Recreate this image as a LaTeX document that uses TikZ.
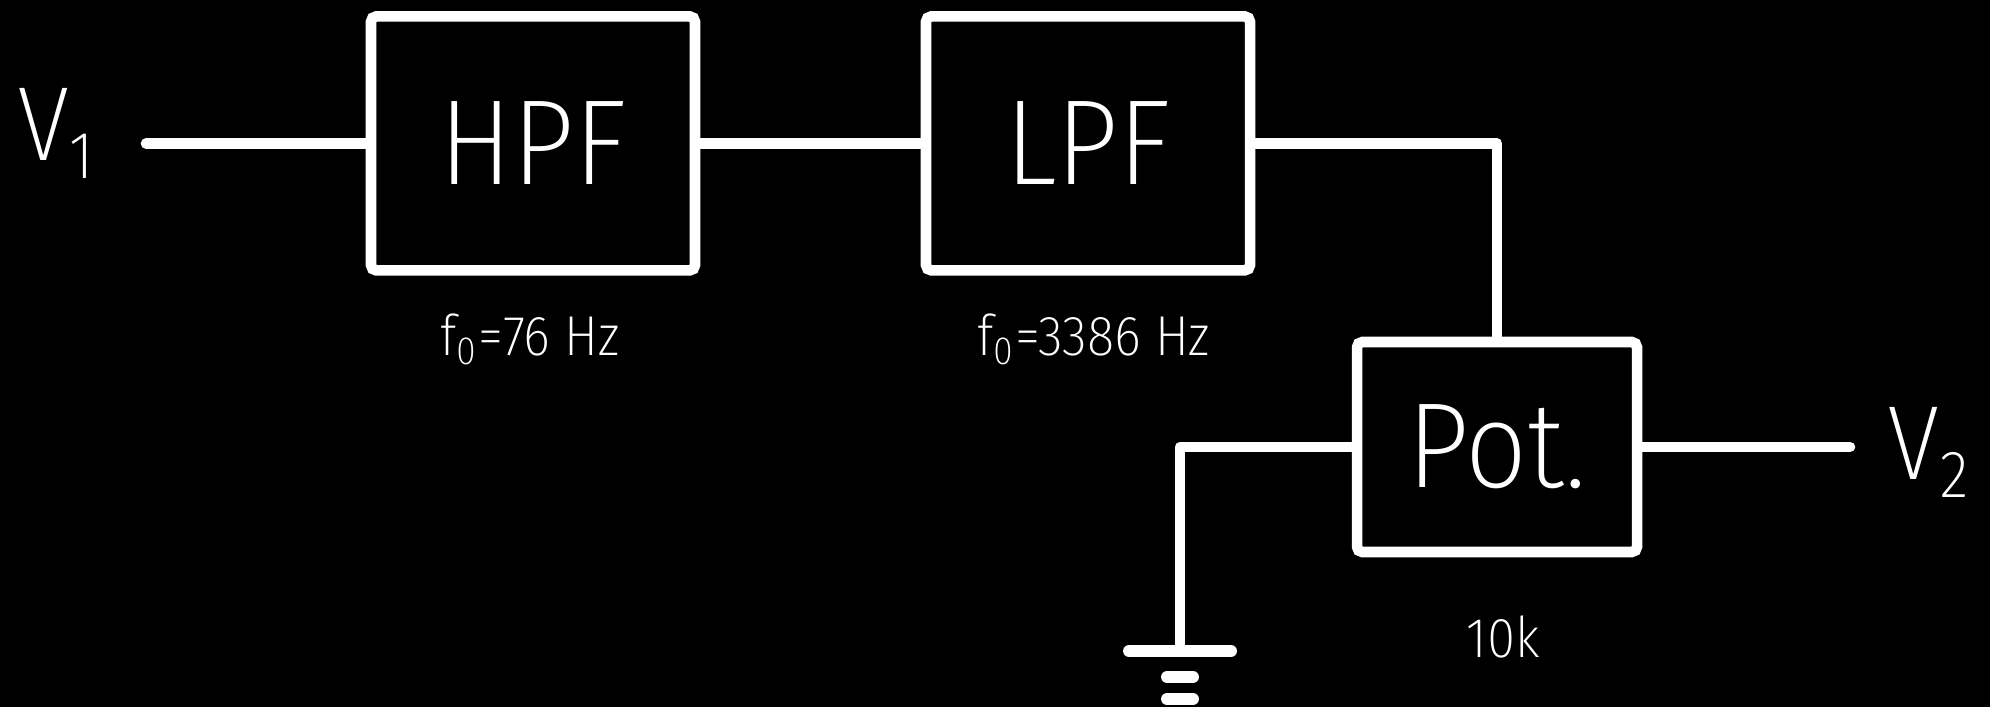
\documentclass[tikz,border=0pt]{standalone}
\usepackage{fontspec}
\IfFontExistsTF{Fira Sans Condensed ExtraLight}
  {\setmainfont{Fira Sans Condensed ExtraLight}}
  {\IfFontExistsTF{Fira Sans ExtraLight}
    {\setmainfont{Fira Sans ExtraLight}}
    {\setmainfont{Fira Sans}[UprightFont=* Light]}}
\usetikzlibrary{positioning}

% lowered index for V_1, V_2
\newcommand{\lowidx}[1]{\raisebox{-0.18cm}{\fontsize{19}{20}\selectfont #1}}

\begin{document}
\begin{tikzpicture}[
    block/.style={draw=white, line width=3pt, rounded corners=1.5pt, minimum width=3.24cm, minimum height=2.54cm, text=white, font=\fontsize{34.5}{38}\selectfont},
    wire/.style={draw=white, line width=3pt, line cap=round, line join=round},
    gndbar/.style={draw=white, line width=3.4pt, line cap=round},
    freq/.style={text=white, font=\fontsize{16}{18}\selectfont, inner sep=0pt},
    volt/.style={text=white, font=\fontsize{30}{32}\selectfont, inner sep=0pt}
]
% Background
\fill[black] (0,0) rectangle (19.9,-7.07);

% Filter blocks
\node[block] (hpf) at (5.33,-1.434) {HPF};
\node[block] (lpf) at (10.88,-1.434) {LPF};
\node[block, minimum width=2.80cm, minimum height=2.10cm] (pot) at (14.97,-4.47) {Pot.};

% Values under the blocks
\node[freq, anchor=base] (fhpf) at (5.30,-3.55) {f\textsubscript{0}=76 Hz};
\node[freq, anchor=base] (flpf) at (10.94,-3.55) {f\textsubscript{0}=3386 Hz};
\node[freq, anchor=base] (rpot) at (15.03,-6.57) {10k};

% Input and output
\node[volt, anchor=base west] (v1) at (0.17,-1.60) {V\lowidx{1}};
\node[volt, anchor=base west] (v2) at (18.87,-4.79) {V\lowidx{2}};
\coordinate (in) at (1.46,-1.434);
\coordinate (out) at (18.50,-4.47);

% Wires
\draw[wire] (in) -- (hpf.west);
\draw[wire] (hpf.east) -- (lpf.west);
\draw[wire] (lpf.east) -| (pot.north);
\draw[wire] (pot.east) -- (out);

% Ground
\coordinate (gnd) at (11.80,-6.51);
\draw[wire] (pot.west) -| (gnd);
\draw[gndbar] ([xshift=-0.51cm]gnd) -- ([xshift=0.51cm]gnd);
\draw[gndbar] (11.67,-6.77) -- (11.93,-6.77);
\draw[gndbar] (11.67,-6.99) -- (11.93,-6.99);
\end{tikzpicture}
\end{document}
